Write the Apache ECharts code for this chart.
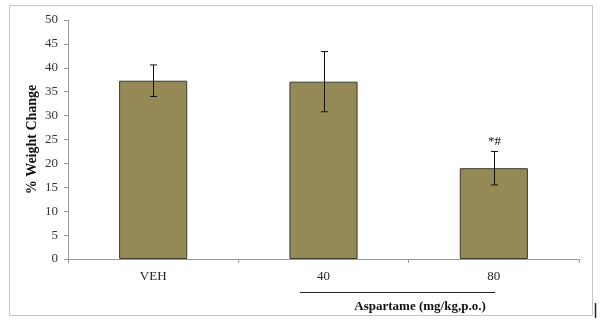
<!DOCTYPE html>
<html><head><meta charset="utf-8">
<script src="https://cdn.jsdelivr.net/npm/echarts@6/dist/echarts.min.js"></script>
<style>html,body{margin:0;padding:0;background:#fff}#c{width:605px;height:323px}</style>
</head><body><div id="c"></div>
<script>
var categories = ['VEH', '40', '80'];
var means = [37.3, 37.1, 19.0];
var errors = [3.3, 6.3, 3.5];
var annotations = ['', '', '*#'];
var yTicks = {min: 0, max: 50, interval: 5};
var yName = '% Weight Change';
var groupLabel = 'Aspartame (mg/kg,p.o.)';

var serif = '"Liberation Serif", "Times New Roman", serif';
var chart = echarts.init(document.getElementById('c'), null, {renderer: 'canvas'});
var errData = categories.map(function (c, i) { return [i, means[i], errors[i], annotations[i]]; });

chart.setOption({
  animation: false,
  backgroundColor: '#fff',
  grid: {left: 68, right: 26, top: 20, bottom: 64},
  xAxis: {
    type: 'category', data: categories,
    axisLine: {lineStyle: {color: '#999', width: 1}},
    axisTick: {show: true, length: 4, lineStyle: {color: '#999'}},
    axisLabel: {color: '#222', fontFamily: serif, fontSize: 13, margin: 11}
  },
  yAxis: {
    type: 'value', min: yTicks.min, max: yTicks.max, interval: yTicks.interval,
    name: yName, nameLocation: 'middle', nameGap: 29, nameMoveOverlap: false,
    nameTextStyle: {fontFamily: serif, fontWeight: 'bold', fontSize: 14, color: '#111'},
    splitLine: {show: false},
    axisLine: {show: true, lineStyle: {color: '#999', width: 1}},
    axisTick: {show: true, length: 4, lineStyle: {color: '#999'}},
    axisLabel: {color: '#333', fontFamily: serif, fontSize: 13, margin: 10}
  },
  series: [
    {
      type: 'bar', data: means, barWidth: '40%',
      itemStyle: {color: '#958A55', borderColor: '#3a3a30', borderWidth: 1}
    },
    {
      type: 'custom', data: errData, z: 10,
      renderItem: function (params, api) {
        var x = api.value(0), m = api.value(1), e = api.value(2);
        var top = api.coord([x, m + e]);
        var bot = api.coord([x, m - e]);
        var cx = Math.round(top[0]) + 0.5;
        var cap = 3.5;
        var st = {stroke: '#111', lineWidth: 1};
        var children = [
          {type: 'line', shape: {x1: cx, y1: top[1], x2: cx, y2: bot[1]}, style: st},
          {type: 'line', shape: {x1: cx - cap, y1: top[1], x2: cx + cap, y2: top[1]}, style: st},
          {type: 'line', shape: {x1: cx - cap, y1: bot[1], x2: cx + cap, y2: bot[1]}, style: st}
        ];
        var ann = errData[params.dataIndex][3];
        if (ann) {
          children.push({type: 'text', style: {text: ann, x: cx, y: top[1] - 3, textAlign: 'center', textVerticalAlign: 'bottom', font: '13px ' + serif, fill: '#111'}});
        }
        return {type: 'group', children: children};
      }
    }
  ],
  graphic: [
    {type: 'rect', shape: {x: 9.5, y: 5.5, width: 583, height: 310}, style: {fill: 'none', stroke: '#c4c4c4', lineWidth: 1}, z: -1},
    {type: 'line', shape: {x1: 595.5, y1: 303, x2: 595.5, y2: 318}, style: {stroke: '#222', lineWidth: 1.5}},
    {type: 'line', shape: {x1: 300, y1: 292.5, x2: 495, y2: 292.5}, style: {stroke: '#222', lineWidth: 1}},
    {type: 'text', style: {text: groupLabel, x: 420, y: 307, textAlign: 'center', textVerticalAlign: 'middle', font: 'bold 13px ' + serif, fill: '#111'}}
  ]
});
</script>
</body></html>
